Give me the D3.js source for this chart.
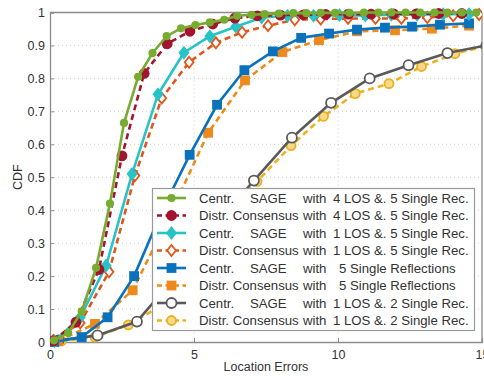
<!DOCTYPE html>
<html>
<head>
<meta charset="utf-8">
<script src="https://cdn.jsdelivr.net/npm/d3@7"></script>
<style>
  body { margin: 0; background: #fff; }
  text { font-family: "Liberation Sans", Arial, sans-serif; fill: #333; }
</style>
</head>
<body>
<div id="chart"></div>
<script>
// plot box
var width = 484;
var height = 376;
var left = 50, right = 482, top_ = 12.5, bottom = 342;

// data
var xTicks = [0, 5, 10, 15];
var yTicks = [0, 0.1, 0.2, 0.3, 0.4, 0.5, 0.6, 0.7, 0.8, 0.9, 1];
var yTickLabels = ["0", "0.1", "0.2", "0.3", "0.4", "0.5", "0.6", "0.7", "0.8", "0.9", "1"];

var greenX = [0.14, 0.63, 1.1, 1.6, 2.08, 2.57, 3.06, 3.56, 4.05, 4.55, 5.05, 5.55, 6.05, 6.5, 7.0, 7.45, 7.95, 8.45, 8.9, 9.4, 9.9, 10.4, 10.9, 11.4, 11.85, 12.35, 12.85, 13.35, 13.8, 14.3, 14.8];
var greenY = [0.005, 0.027, 0.093, 0.225, 0.42, 0.665, 0.805, 0.877, 0.928, 0.952, 0.962, 0.97, 0.978, 0.99, 0.993, 0.995, 0.997, 0.998, 0.998, 0.999, 0.999, 0.999, 1, 1, 1, 1, 1, 1, 1, 1, 1];

var redX = [0.12, 0.9, 1.7, 2.5, 3.27, 4.07, 4.86, 5.65, 6.42, 7.2, 8.0, 8.8, 9.57, 10.36, 11.15, 11.93, 12.72, 13.5, 14.3];
var redY = [0.003, 0.06, 0.22, 0.565, 0.815, 0.905, 0.943, 0.965, 0.983, 0.99, 0.992, 0.993, 0.994, 0.995, 0.995, 0.996, 0.996, 0.997, 0.997];

var cyanX = [0.15, 1.05, 1.95, 2.85, 3.75, 4.65, 5.55, 6.45, 7.35, 8.25, 9.15, 10.05, 10.95, 11.85, 12.75, 13.65, 14.55];
var cyanY = [0.002, 0.075, 0.232, 0.51, 0.752, 0.878, 0.928, 0.957, 0.985, 0.99, 0.99, 0.992, 0.991, 0.993, 0.993, 0.995, 0.995];

var orangeDX = [0.12, 1.05, 2.05, 2.95, 3.88, 4.83, 5.76, 6.67, 7.57, 8.5, 9.4, 10.35, 11.3, 12.2, 13.1, 14.0, 14.9];
var orangeDY = [0.005, 0.058, 0.213, 0.505, 0.74, 0.849, 0.908, 0.94, 0.96, 0.978, 0.98, 0.982, 0.982, 0.982, 0.985, 0.99, 0.994];

var blueX = [0.15, 1.1, 2.0, 2.92, 3.9, 4.85, 5.8, 6.75, 7.74, 8.72, 9.69, 10.66, 11.63, 12.57, 13.54, 14.55];
var blueY = [0.0, 0.015, 0.075, 0.2, 0.4, 0.568, 0.72, 0.825, 0.882, 0.923, 0.936, 0.948, 0.954, 0.957, 0.963, 0.967];

var orangeSX = [0.27, 1.56, 2.87, 4.18, 5.49, 6.77, 8.07, 9.34, 10.66, 11.98, 13.26, 14.55];
var orangeSY = [0.003, 0.055, 0.157, 0.387, 0.635, 0.794, 0.88, 0.916, 0.943, 0.946, 0.951, 0.96];

var grayX = [0.3, 1.65, 3.02, 4.37, 5.72, 7.08, 8.4, 9.76, 11.1, 12.45, 13.8, 15.15];
var grayY = [0.005, 0.02, 0.062, 0.2, 0.354, 0.49, 0.62, 0.726, 0.8, 0.84, 0.877, 0.9];

var yellowX = [0.4, 1.56, 2.72, 3.87, 5.0, 6.1, 7.19, 8.37, 9.5, 10.6, 11.77, 12.9, 14.06, 15.2];
var yellowY = [0.003, 0.015, 0.052, 0.11, 0.25, 0.38, 0.487, 0.596, 0.685, 0.754, 0.784, 0.836, 0.875, 0.9];

var legendMethod = ["Centr.", "Distr. Consensus", "Centr.", "Distr. Consensus", "Centr.", "Distr. Consensus", "Centr.", "Distr. Consensus"];
var legendAlgo = ["SAGE", "", "SAGE", "", "SAGE", "", "SAGE", ""];
var legendScenario = ["4 LOS &. 5 Single Rec.", "4 LOS &. 5 Single Rec.", "1 LOS &. 5 Single Rec.", "1 LOS &. 5 Single Rec.", "5 Single Reflections", "5 Single Reflections", "1 LOS &. 2 Single Rec.", "1 LOS &. 2 Single Rec."];

var series = [
    {xs: greenX, ys: greenY, color: "#77ac30", dash: null, marker: "circle", size: 3.2, fill: "#77ac30"},
    {xs: redX, ys: redY, color: "#a2142f", dash: "6,4", marker: "circle", size: 4.5, fill: "#a2142f"},
    {xs: cyanX, ys: cyanY, color: "#27c3c6", dash: null, marker: "diamond", size: 5.5, fill: "#27c3c6"},
    {xs: orangeDX, ys: orangeDY, color: "#e0561b", dash: "6,4", marker: "diamond", size: 5.5, fill: "#fff"},
    {xs: blueX, ys: blueY, color: "#0a72bd", dash: null, marker: "square", size: 4, fill: "#0a72bd"},
    {xs: orangeSX, ys: orangeSY, color: "#ee8a1c", dash: "6,4", marker: "square", size: 4, fill: "#ee8a1c"},
    {xs: grayX, ys: grayY, color: "#5a5a5a", dash: null, marker: "circle", size: 5, fill: "#fff"},
    {xs: yellowX, ys: yellowY, color: "#edb120", dash: "6,4", marker: "circle", size: 4.5, fill: "#f7d98a"}
];

var svg = d3.select("#chart")
    .append("svg")
        .attr("width", width)
        .attr("height", height);

var x = d3.scaleLinear().domain([0, 15]).range([left, right]);
var y = d3.scaleLinear().domain([0, 1]).range([bottom, top_]);

// dotted grid
svg.append("g")
    .selectAll("line")
    .data(xTicks.slice(1, 3))
    .enter()
    .append("line")
    .attr("x1", function(d){return x(d);})
    .attr("x2", function(d){return x(d);})
    .attr("y1", top_)
    .attr("y2", bottom)
    .style("stroke", "#cfcfcf")
    .style("stroke-dasharray", "1,3");

svg.append("g")
    .selectAll("line")
    .data(yTicks.slice(1, 10))
    .enter()
    .append("line")
    .attr("x1", left)
    .attr("x2", right)
    .attr("y1", function(d){return y(d);})
    .attr("y2", function(d){return y(d);})
    .style("stroke", "#cfcfcf")
    .style("stroke-dasharray", "1,3");

// axes
var xAxis = svg.append("g")
    .attr("transform", "translate(0," + bottom + ")")
    .call(d3.axisBottom(x).tickValues(xTicks).tickSize(-4).tickPadding(8));
var yAxis = svg.append("g")
    .attr("transform", "translate(" + left + ",0)")
    .call(d3.axisLeft(y).tickValues(yTicks).tickSize(-4).tickPadding(5)
        .tickFormat(function(d, i){return yTickLabels[i];}));

[xAxis, yAxis].forEach(function(a) {
    a.select(".domain").style("stroke", "#8c8c8c").style("stroke-width", 1.3);
    a.selectAll(".tick line").style("stroke", "#8c8c8c");
    a.selectAll("text").style("font-size", "12.5px").style("fill", "#333");
});

// top and right frame
svg.append("line").attr("x1", left).attr("x2", right).attr("y1", top_).attr("y2", top_)
    .style("stroke", "#8c8c8c").style("stroke-width", 1.3);
svg.append("line").attr("x1", right).attr("x2", right).attr("y1", top_).attr("y2", bottom)
    .style("stroke", "#8c8c8c").style("stroke-width", 1.3);

svg.append("text")
    .attr("x", (left + right) / 2)
    .attr("y", 371)
    .attr("text-anchor", "middle")
    .style("font-size", "12.5px")
    .text("Location Errors");

svg.append("text")
    .attr("transform", "translate(22," + ((top_ + bottom) / 2) + ")rotate(-90)")
    .attr("text-anchor", "middle")
    .style("font-size", "12.5px")
    .text("CDF");

svg.append("clipPath")
    .attr("id", "clip")
    .append("rect")
    .attr("x", left).attr("y", top_ - 8)
    .attr("width", right - left).attr("height", bottom - top_ + 16);

var plot = svg.append("g").attr("clip-path", "url(#clip)");

function drawMarker(g, s, cx, cy) {
    var m;
    if (s.marker == "circle") {
        m = g.append("circle").attr("cx", cx).attr("cy", cy).attr("r", s.size);
    } else if (s.marker == "square") {
        m = g.append("rect").attr("x", cx - s.size).attr("y", cy - s.size)
            .attr("width", 2 * s.size).attr("height", 2 * s.size);
    } else {
        var r = s.size;
        m = g.append("path").attr("d", "M" + cx + "," + (cy - r) + "L" + (cx + r * 0.8) + "," + cy +
            "L" + cx + "," + (cy + r) + "L" + (cx - r * 0.8) + "," + cy + "Z");
    }
    m.style("fill", s.fill).style("stroke", s.color).style("stroke-width", 1.8);
}

var line = d3.line()
    .x(function(d){return x(d[0]);})
    .y(function(d){return y(d[1]);});

// draw from last to first so the upper curves stay on top
series.slice().reverse().forEach(function(s) {
    var pts = s.xs.map(function(v, i){return [v, s.ys[i]];});
    plot.append("path")
        .datum(pts)
        .attr("d", line)
        .style("fill", "none")
        .style("stroke", s.color)
        .style("stroke-width", 2.6)
        .style("stroke-dasharray", s.dash);
    var g = plot.append("g");
    pts.forEach(function(p) {
        drawMarker(g, s, x(p[0]), y(p[1]));
    });
});

// legend
var lg = svg.append("g");
lg.append("rect")
    .attr("x", 152.5).attr("y", 188.5)
    .attr("width", 322).attr("height", 142)
    .style("fill", "#fff")
    .style("stroke", "#9a9a9a")
    .style("stroke-width", 1.2);

series.forEach(function(s, i) {
    var ly = 198 + i * 17.5;
    lg.append("line")
        .attr("x1", 157).attr("x2", 186)
        .attr("y1", ly).attr("y2", ly)
        .style("stroke", s.color)
        .style("stroke-width", 2.6)
        .style("stroke-dasharray", s.dash ? "5,3.5" : null);
    drawMarker(lg, s, 171.5, ly);
    var t = lg.append("text")
        .attr("y", ly + 4.7)
        .style("font-size", "13.2px")
        .style("fill", "#333");
    t.append("tspan").attr("x", 199).text(legendMethod[i]);
    if (legendAlgo[i] != "") {
        t.append("tspan").attr("x", 250).text(legendAlgo[i]);
    }
    t.append("tspan").attr("x", 303).text("with");
    if (legendScenario[i] == "5 Single Reflections") {
        t.append("tspan").attr("x", 339).text(legendScenario[i]);
    } else {
        t.append("tspan").attr("x", 333).text(legendScenario[i]);
    }
});
</script>
</body>
</html>
